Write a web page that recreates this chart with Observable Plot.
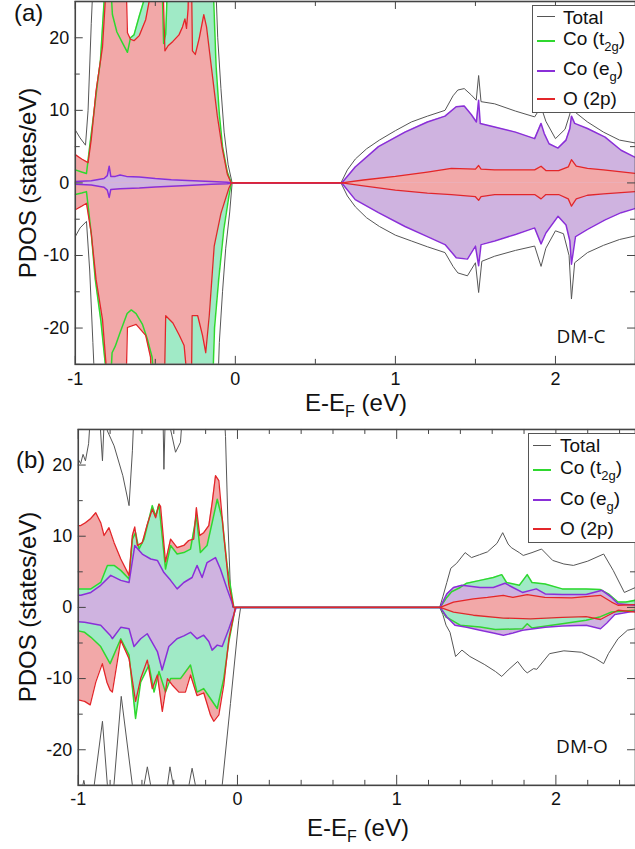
<!DOCTYPE html>
<html><head><meta charset="utf-8">
<script src="https://cdn.jsdelivr.net/npm/d3@7"></script>
<script src="https://cdn.jsdelivr.net/npm/@observablehq/plot@0.6"></script>
<style>
html,body{margin:0;padding:0;background:#fff;overflow:hidden;width:635px;height:849px;}
#wrap{position:relative;width:635px;height:849px;overflow:hidden;font-family:"Liberation Sans",Arial,sans-serif;color:#111;}
.panel{position:absolute;left:0;}
.lbl{position:absolute;white-space:nowrap;line-height:1;}
.legend{position:absolute;background:#fff;border:1.5px solid #555;box-sizing:border-box;}
.sample{position:absolute;height:0;width:18px;}
.ltxt{position:absolute;font-size:19px;line-height:19px;white-space:nowrap;}
.ltxt sub{font-size:13px;vertical-align:-6px;line-height:0;}
.tag{position:absolute;font-family:"Open Sans",sans-serif;font-size:19px;line-height:19px;transform:translate(-50%,-50%);}
.ytitle{position:absolute;font-size:24px;line-height:24px;white-space:nowrap;transform:translate(-50%,-50%) rotate(-90deg);}
.xtitle{position:absolute;font-size:24px;line-height:22px;white-space:nowrap;transform:translate(-50%,-50%);}
.xtitle sub{font-size:16px;vertical-align:-6px;line-height:0;}
</style></head>
<body><div id="wrap"></div>
<script>
// ---------- Panel (a) DM-C : [E-EF (eV), PDOS] ----------
const aTotalUp = [[-1,7.3],[-0.97,6.2],[-0.936,5.2],[-0.92,10],[-0.9,22],[-0.88,32],[-0.13,32],[-0.11,20],[-0.09,13],[-0.07,7],[-0.045,2.5],[-0.02,0],[0.66,0],[0.7,1.8],[0.75,3.3],[0.82,4.7],[0.9,5.9],[1.0,7.2],[1.1,8.4],[1.2,9.2],[1.31,10],[1.36,12],[1.39,12.8],[1.43,13.0],[1.475,12.1],[1.505,11.4],[1.52,14.8],[1.535,11.2],[1.62,10.9],[1.75,9.9],[1.87,9.1],[1.91,10.5],[1.94,8.5],[2.0,6.1],[2.06,7.4],[2.09,9.5],[2.1,12],[2.12,9.8],[2.2,8.4],[2.3,7.0],[2.4,5.9],[2.5,5.5]];
const aTotalDown = [[-1,-7.4],[-0.97,-6.2],[-0.93,-5.3],[-0.91,-12],[-0.89,-22],[-0.87,-32],[-0.115,-32],[-0.1,-22],[-0.08,-15],[-0.06,-9],[-0.035,-4],[-0.02,0],[0.66,0],[0.7,-1.8],[0.75,-3.3],[0.82,-4.8],[0.9,-6.0],[1.0,-7.2],[1.1,-8.0],[1.2,-8.8],[1.31,-9.6],[1.36,-11.5],[1.39,-12.4],[1.45,-12.8],[1.5,-11.0],[1.52,-15.1],[1.54,-10.8],[1.62,-10.1],[1.75,-9.3],[1.87,-8.7],[1.91,-11.5],[1.94,-9],[2.0,-6.6],[2.05,-7.0],[2.085,-10],[2.1,-16.0],[2.12,-11],[2.2,-9.6],[2.3,-8.6],[2.4,-7.8],[2.5,-7.3]];
const aGreenUp = [[-1,1.8],[-0.96,1.5],[-0.93,1.3],[-0.91,5],[-0.88,10.3],[-0.86,14],[-0.843,16.8],[-0.82,25],[-0.81,30],[-0.785,30],[-0.768,23.2],[-0.74,20.8],[-0.71,19.5],[-0.674,18.0],[-0.655,20],[-0.633,20.4],[-0.6,23],[-0.573,25],[-0.56,30],[-0.46,30],[-0.448,19.2],[-0.435,20.5],[-0.42,30],[-0.145,30],[-0.135,25],[-0.12,16],[-0.1,9.5],[-0.08,5],[-0.05,1.5],[-0.025,0],[2.5,0]];
const aGreenDown = [[-1,-1.6],[-0.96,-1.4],[-0.93,-1.2],[-0.9,-7],[-0.875,-13.3],[-0.84,-19],[-0.81,-25.5],[-0.8,-30],[-0.785,-30],[-0.77,-23.4],[-0.75,-22.5],[-0.72,-20.6],[-0.676,-18],[-0.65,-17.5],[-0.62,-18],[-0.58,-19.5],[-0.55,-21.5],[-0.52,-24],[-0.5,-30],[-0.145,-30],[-0.13,-20],[-0.104,-13.3],[-0.072,-6.4],[-0.04,-1.8],[-0.025,0],[2.5,0]];
const aEgUp = [[-1,0.2],[-0.9,0.3],[-0.82,0.6],[-0.8,1.0],[-0.788,2.3],[-0.778,0.9],[-0.75,0.9],[-0.72,1.1],[-0.68,0.9],[-0.6,0.8],[-0.5,0.6],[-0.4,0.45],[-0.3,0.35],[-0.15,0.2],[-0.05,0.1],[-0.02,0],[0.665,0],[0.749,2.2],[0.894,5.0],[1.06,7.0],[1.2,8.4],[1.31,9.2],[1.38,10.5],[1.43,10.6],[1.475,9.4],[1.506,8.4],[1.52,11.4],[1.53,8.2],[1.62,7.7],[1.75,7.0],[1.87,6.1],[1.91,8.2],[1.93,6.8],[1.96,5.4],[2.016,4.8],[2.066,5.9],[2.09,7.5],[2.1,9.2],[2.12,8.2],[2.2,7.5],[2.31,6.3],[2.41,4.5],[2.5,3.5]];
const aEgDown = [[-1,-0.2],[-0.9,-0.3],[-0.82,-0.6],[-0.8,-1.0],[-0.788,-2.0],[-0.778,-0.9],[-0.72,-0.8],[-0.6,-0.7],[-0.5,-0.55],[-0.4,-0.45],[-0.3,-0.35],[-0.15,-0.2],[-0.05,-0.1],[-0.02,0],[0.665,0],[0.749,-2.3],[0.894,-4.1],[1.06,-6.0],[1.2,-7.4],[1.31,-8.5],[1.38,-10.3],[1.45,-10.5],[1.5,-8.7],[1.52,-11.4],[1.535,-8.5],[1.62,-8.0],[1.75,-7.1],[1.87,-6.2],[1.91,-8.4],[1.94,-6.9],[2.016,-4.6],[2.066,-5.8],[2.09,-8],[2.1,-11.2],[2.125,-7.4],[2.2,-6.4],[2.31,-5.1],[2.41,-4.1],[2.5,-3.5]];
const aO2pUp = [[-1,3.9],[-0.96,3.3],[-0.92,2.8],[-0.9,6],[-0.87,12.7],[-0.83,18.7],[-0.81,26],[-0.8,30],[-0.685,30],[-0.674,20.7],[-0.655,19.8],[-0.633,19.6],[-0.6,20.3],[-0.56,22.5],[-0.53,26],[-0.52,30],[-0.455,30],[-0.44,18.2],[-0.42,18.9],[-0.39,19.5],[-0.352,20.4],[-0.33,21.5],[-0.315,22.6],[-0.305,21.3],[-0.295,24],[-0.29,30],[-0.275,30],[-0.268,18.2],[-0.25,17.7],[-0.225,20],[-0.197,23.2],[-0.18,21.5],[-0.146,15.3],[-0.113,9.3],[-0.082,4.8],[-0.05,1.2],[-0.026,0],[0.665,0],[0.8,0.4],[1.0,0.9],[1.2,1.5],[1.35,2.0],[1.5,1.9],[1.52,2.4],[1.535,1.9],[1.62,1.8],[1.75,1.8],[1.87,1.8],[1.91,2.3],[1.94,1.7],[2.02,1.7],[2.08,2.2],[2.1,3.2],[2.13,2.3],[2.2,2.0],[2.3,1.8],[2.5,1.3]];
const aO2pDown = [[-1,-3.7],[-0.96,-3.2],[-0.93,-2.8],[-0.9,-7],[-0.87,-13.3],[-0.83,-18.8],[-0.806,-25.5],[-0.8,-30],[-0.685,-30],[-0.674,-19.9],[-0.62,-19.5],[-0.56,-21],[-0.53,-24],[-0.52,-30],[-0.445,-30],[-0.435,-18.3],[-0.39,-19.3],[-0.35,-21],[-0.32,-22.4],[-0.305,-26],[-0.29,-30],[-0.275,-30],[-0.27,-18.3],[-0.235,-18.3],[-0.205,-21],[-0.185,-23.4],[-0.163,-18.3],[-0.132,-8.7],[-0.09,-4.2],[-0.04,-0.7],[-0.025,0],[0.665,0],[0.8,-0.4],[1.0,-1.0],[1.2,-1.4],[1.35,-1.6],[1.5,-1.9],[1.52,-2.4],[1.535,-1.9],[1.62,-1.6],[1.75,-1.6],[1.87,-1.6],[1.91,-2.2],[1.94,-1.6],[2.02,-1.6],[2.08,-2.2],[2.1,-3.2],[2.13,-2.2],[2.2,-1.7],[2.3,-1.5],[2.5,-1.2]];

// ---------- Panel (b) DM-O ----------
const bTotalUp = [[-1,20.8],[-0.985,20.2],[-0.97,21.5],[-0.955,20.6],[-0.935,23],[-0.915,30],[-0.875,30],[-0.848,20.6],[-0.83,30],[-0.82,26],[-0.817,24.8],[-0.775,22.7],[-0.72,18.5],[-0.681,14.3],[-0.66,22],[-0.645,30],[-0.47,30],[-0.462,19.4],[-0.45,30],[-0.42,25],[-0.389,21.8],[-0.358,23.2],[-0.337,30],[-0.09,30],[-0.075,24],[-0.06,12],[-0.045,3],[-0.03,0],[1.27,0],[1.29,1.5],[1.315,3.5],[1.34,5.5],[1.377,6.2],[1.43,7.7],[1.47,7.0],[1.52,7.4],[1.57,7.8],[1.63,9.0],[1.666,10.5],[1.7,8.9],[1.72,8.4],[1.77,7.7],[1.795,7.3],[1.85,7.7],[1.91,8.2],[1.98,6.6],[2.05,6.1],[2.11,5.9],[2.2,6.5],[2.3,7.5],[2.36,5.2],[2.43,2.1],[2.5,2.8]];
const bTotalDown = [[-1,-30],[-0.98,-26],[-0.965,-24.3],[-0.95,-26],[-0.93,-30],[-0.905,-27],[-0.9,-25],[-0.848,-16],[-0.817,-25],[-0.81,-27],[-0.78,-27],[-0.776,-25],[-0.73,-12.5],[-0.66,-25],[-0.65,-28],[-0.595,-28],[-0.587,-25],[-0.566,-22.4],[-0.545,-25],[-0.535,-28],[-0.45,-28],[-0.44,-25],[-0.424,-22.4],[-0.403,-25],[-0.39,-28],[-0.315,-28],[-0.305,-25],[-0.285,-22.6],[-0.264,-25],[-0.25,-28],[-0.11,-28],[-0.096,-25],[-0.044,-13.5],[0.008,-1.8],[0.02,0],[1.27,0],[1.29,-1],[1.31,-2.5],[1.335,-3.5],[1.37,-6.9],[1.41,-6.0],[1.46,-6.9],[1.55,-8],[1.62,-9],[1.66,-9.7],[1.7,-8.8],[1.76,-7.6],[1.8,-8.8],[1.82,-9.2],[1.86,-8.6],[1.88,-8.7],[1.96,-6.5],[2.05,-6.1],[2.16,-6.3],[2.25,-7.2],[2.3,-7.9],[2.33,-6.5],[2.39,-4.4],[2.45,-3.2],[2.5,-3.0]];
const bGreenUp = [[-1,2.6],[-0.984,2.6],[-0.921,2.6],[-0.859,3.5],[-0.817,5.9],[-0.775,5.9],[-0.733,5.2],[-0.681,4.0],[-0.66,9.6],[-0.64,10.5],[-0.619,8.2],[-0.587,9.6],[-0.535,14.3],[-0.514,12.8],[-0.493,14.5],[-0.452,5.4],[-0.42,8.7],[-0.379,7.5],[-0.337,7.7],[-0.295,8.2],[-0.258,12.9],[-0.233,7.7],[-0.191,8.7],[-0.159,11.9],[-0.127,15.2],[-0.096,12.4],[-0.065,5.9],[-0.023,0],[1.273,0],[1.315,1.4],[1.345,2.2],[1.399,2.8],[1.44,3.4],[1.524,3.8],[1.607,4.2],[1.66,4.6],[1.69,3.5],[1.77,3.1],[1.82,4.6],[1.85,3.5],[1.933,3.3],[2.04,2.6],[2.19,2.6],[2.28,2.5],[2.33,1.9],[2.39,0.75],[2.44,0.75],[2.5,1.0]];
const bGreenDown = [[-1,-3.3],[-0.96,-3.5],[-0.92,-4.2],[-0.859,-5.5],[-0.8,-7.9],[-0.733,-4.4],[-0.681,-6.7],[-0.64,-15.6],[-0.608,-10.5],[-0.556,-8.1],[-0.524,-11.9],[-0.493,-9.0],[-0.452,-11.9],[-0.42,-10.0],[-0.358,-10.0],[-0.295,-8.1],[-0.254,-11.9],[-0.212,-11.4],[-0.17,-12.8],[-0.127,-14.2],[-0.086,-10.0],[-0.054,-4.8],[-0.013,0],[1.273,0],[1.31,-1.35],[1.345,-1.8],[1.399,-2.5],[1.524,-2.75],[1.62,-3.1],[1.79,-3.0],[1.82,-2.3],[1.85,-2.9],[2.04,-2.3],[2.19,-1.8],[2.28,-1.3],[2.35,-0.65],[2.5,-0.4]];
const bEgUp = [[-1,1.7],[-0.984,1.7],[-0.921,2.1],[-0.859,3.1],[-0.796,4.5],[-0.733,3.8],[-0.681,3.5],[-0.645,8.7],[-0.598,7.5],[-0.545,6.8],[-0.503,6.6],[-0.462,4.9],[-0.42,3.8],[-0.379,2.6],[-0.337,3.5],[-0.285,4.2],[-0.254,5.9],[-0.222,4.2],[-0.191,6.3],[-0.138,7.0],[-0.107,5.4],[-0.065,2.6],[-0.023,0],[1.273,0],[1.315,1.9],[1.357,2.8],[1.41,3.1],[1.524,2.8],[1.607,2.8],[1.68,3.4],[1.73,2.8],[1.79,2.1],[1.877,2.6],[1.933,1.9],[2.04,1.8],[2.19,1.8],[2.29,2.4],[2.35,1.4],[2.39,0.5],[2.5,0.3]];
const bEgDown = [[-1,-2.0],[-0.96,-2.1],[-0.859,-2.5],[-0.8,-3.9],[-0.786,-4.4],[-0.733,-2.8],[-0.681,-3.0],[-0.65,-5.5],[-0.608,-4.4],[-0.567,-3.7],[-0.503,-6.2],[-0.473,-8.8],[-0.431,-5.5],[-0.38,-4.4],[-0.337,-4.0],[-0.295,-3.5],[-0.254,-4.4],[-0.212,-3.9],[-0.18,-4.8],[-0.159,-6.0],[-0.127,-5.3],[-0.096,-5.5],[-0.054,-3.0],[-0.023,-1.0],[-0.008,0],[1.273,0],[1.315,-1.35],[1.366,-2.5],[1.44,-2.8],[1.524,-3.2],[1.607,-3.6],[1.67,-3.9],[1.73,-3.6],[1.79,-3.2],[1.933,-2.8],[2.04,-2.6],[2.19,-2.5],[2.28,-3.0],[2.32,-2.2],[2.37,-1.0],[2.5,-0.5]];
const bO2pUp = [[-1,11.5],[-0.984,11.5],[-0.955,11.9],[-0.921,12.5],[-0.89,13.3],[-0.859,11.9],[-0.838,10.1],[-0.807,11.2],[-0.775,9.1],[-0.733,6.8],[-0.681,4.5],[-0.66,10.1],[-0.645,11.3],[-0.629,8.7],[-0.598,9.1],[-0.566,11.7],[-0.535,13.8],[-0.514,12.6],[-0.493,14.5],[-0.483,14.2],[-0.452,6.4],[-0.42,9.6],[-0.379,8.4],[-0.337,8.7],[-0.306,9.4],[-0.275,9.6],[-0.258,14.0],[-0.237,10.1],[-0.212,10.5],[-0.18,11.5],[-0.159,14.7],[-0.138,18.5],[-0.117,17.8],[-0.086,10.1],[-0.054,3.1],[-0.023,0],[1.273,0],[1.357,0.75],[1.482,1.2],[1.57,1.4],[1.67,1.7],[1.73,1.4],[1.82,1.8],[1.93,1.4],[2.1,1.35],[2.28,1.7],[2.35,0.75],[2.39,0.3],[2.5,0.4]];
const bO2pDown = [[-1,-13],[-0.96,-13.2],[-0.925,-13.7],[-0.89,-10.5],[-0.849,-7.9],[-0.82,-10.5],[-0.8,-11.6],[-0.786,-11.9],[-0.733,-4.6],[-0.681,-7.2],[-0.64,-13.2],[-0.608,-10.0],[-0.566,-7.4],[-0.535,-11.4],[-0.503,-9.5],[-0.472,-14.6],[-0.44,-10.0],[-0.41,-10.9],[-0.368,-11.9],[-0.327,-11.9],[-0.295,-9.5],[-0.254,-12.4],[-0.212,-12.0],[-0.17,-15.1],[-0.149,-16.0],[-0.117,-15.1],[-0.086,-10.9],[-0.054,-4.4],[-0.013,0],[1.273,0],[1.357,-0.65],[1.482,-1.1],[1.67,-1.5],[1.84,-1.6],[2.04,-1.4],[2.19,-1.3],[2.28,-1.7],[2.33,-1.1],[2.39,-0.4],[2.5,-0.65]];

// ---------- ticks ----------
const xMajorA = [-1, 0, 1, 2];
const xMinorA = [-0.5, 0.5, 1.5, 2.5];
const xMajorB = [-1, 0, 1, 2];
const xMinorB = [-0.8,-0.6,-0.4,-0.2,0.2,0.4,0.6,0.8,1.2,1.4,1.6,1.8,2.2,2.4];
const yMajor = [-20, -10, 0, 10, 20];
const yMinor = [-25, -15, -5, 5, 15, 25];

// ---------- colours ----------
const C = {
  total: "#555555",
  t2g: "#2fd82f", t2gFill: "#a0eac6",
  eg: "#8a2fd8", egFill: "#cfb3e0",
  o2p: "#e3262a", o2pFill: "#f2a8a8",
  axis: "#444444"
};

const X = d => d[0], Y = d => d[1];
const VB = d => d[0] < 0.3, CB = d => d[0] >= 0.3;
const fill = (data, color) => Plot.areaY(data, {x: X, y: Y, fill: color, clip: true});
const line = (data, color, w) => Plot.line(data, {x: X, y: Y, stroke: color, strokeWidth: w, clip: true});

const W = 637;
function panel(o) {
  const innerH = o.height - o.mt - o.mb, innerW = W - o.ml;
  const tx = (vals, len, where) => Plot.tickX(vals, {x: d => d, stroke: C.axis, strokeWidth: 1,
    insetTop: where === "bottom" ? innerH - len : 0, insetBottom: where === "top" ? innerH - len : 0});
  const ty = (vals, len, where) => Plot.tickY(vals, {y: d => d, stroke: C.axis, strokeWidth: 1,
    insetRight: where === "left" ? innerW - len : 0, insetLeft: where === "right" ? innerW - len : 0});
  return Plot.plot({
    width: W, height: o.height,
    marginTop: o.mt, marginBottom: o.mb, marginLeft: o.ml, marginRight: 0,
    style: {fontFamily: '"Liberation Sans", Arial, sans-serif', fontSize: "18px", background: "white", color: "#111", overflow: "visible"},
    x: {domain: [-1, 2.5]},
    y: {domain: [-25, 25]},
    marks: [
      ...o.fills,
      ...o.lines,
      tx(o.xMajor, o.xMajLen, "bottom"), tx(o.xMajor, o.xMajLen, "top"),
      tx(o.xMinor, 5, "bottom"), tx(o.xMinor, 5, "top"),
      ty(yMajor, 8, "left"), ty(yMajor, 8, "right"),
      ty(yMinor, 5, "left"), ty(yMinor, 5, "right"),
      Plot.axisX({ticks: o.xMajor, tickSize: 0, tickPadding: o.xPad, tickFormat: d => String(d), label: null, fontSize: 18}),
      Plot.axisY({ticks: yMajor, tickSize: 0, tickPadding: 6, tickFormat: d => String(d), label: null, fontSize: 18}),
      Plot.frame({stroke: C.axis, strokeWidth: 1.6})
    ]
  });
}

const plotA = panel({
  height: 420, mt: 1, mb: 55, ml: 75, xMajor: xMajorA, xMinor: xMinorA, xMajLen: 8, xPad: 8,
  fills: [
    fill(aGreenUp, C.t2gFill), fill(aGreenDown, C.t2gFill),
    fill(aEgUp.filter(CB), C.egFill), fill(aEgDown.filter(CB), C.egFill),
    fill(aO2pUp, C.o2pFill), fill(aO2pDown, C.o2pFill),
    fill(aEgUp.filter(VB), C.egFill), fill(aEgDown.filter(VB), C.egFill)
  ],
  lines: [
    line(aTotalUp, C.total, 1), line(aTotalDown, C.total, 1),
    line(aGreenUp.filter(VB), C.t2g, 1.5), line(aGreenDown.filter(VB), C.t2g, 1.5),
    line(aEgUp, C.eg, 1.5), line(aEgDown, C.eg, 1.5),
    line(aO2pUp, C.o2p, 1.3), line(aO2pDown, C.o2p, 1.3)
  ]
});

const plotB = panel({
  height: 429, mt: 9, mb: 63, ml: 78, xMajor: xMajorB, xMinor: xMinorB, xMajLen: 10, xPad: 7,
  fills: [
    fill(bO2pUp.filter(VB), C.o2pFill), fill(bO2pDown.filter(VB), C.o2pFill),
    fill(bGreenUp.filter(VB), C.t2gFill), fill(bGreenDown.filter(VB), C.t2gFill),
    fill(bEgUp.filter(VB), C.egFill), fill(bEgDown.filter(VB), C.egFill),
    fill(bGreenUp.filter(CB), C.t2gFill), fill(bEgUp.filter(CB), C.egFill), fill(bO2pUp.filter(CB), C.o2pFill),
    fill(bEgDown.filter(CB), C.egFill), fill(bGreenDown.filter(CB), C.t2gFill), fill(bO2pDown.filter(CB), C.o2pFill)
  ],
  lines: [
    line(bTotalUp, C.total, 1), line(bTotalDown, C.total, 1),
    line(bGreenUp, C.t2g, 1.5), line(bGreenDown, C.t2g, 1.5),
    line(bEgUp, C.eg, 1.5), line(bEgDown, C.eg, 1.5),
    line(bO2pUp, C.o2p, 1.3), line(bO2pDown, C.o2p, 1.3)
  ]
});

const wrap = document.getElementById("wrap");
function place(node, top) { const d = document.createElement("div"); d.className = "panel"; d.style.top = top + "px"; d.appendChild(node); wrap.appendChild(d); }
place(plotA, 0);
place(plotB, 420);

function html(cls, style, inner) {
  const d = document.createElement("div"); d.className = cls; d.setAttribute("style", style); d.innerHTML = inner; wrap.appendChild(d); return d;
}
// panel letters
html("lbl", "left:14px;top:1px;font-size:24px;", "(a)");
html("lbl", "left:16px;top:448px;font-size:24px;", "(b)");
// axis titles
html("ytitle", "left:28px;top:183px;", "PDOS (states/eV)");
html("ytitle", "left:28px;top:607px;", "PDOS (states/eV)");
html("xtitle", "left:356px;top:403px;", "E-E<sub>F</sub> (eV)");
html("xtitle", "left:358px;top:828px;", "E-E<sub>F</sub> (eV)");
// tags
html("tag", "left:581px;top:336px;", "DM-C");
html("tag", "left:582px;top:746px;", "DM-O");

// legends
const legendItems = [
  {label: "Total", color: C.total, w: 1},
  {label: "Co (t<sub>2g</sub>)", color: C.t2g, w: 2},
  {label: "Co (e<sub>g</sub>)", color: C.eg, w: 2},
  {label: "O (2p)", color: C.o2p, w: 2}
];
function legend(box, lineX, textX, lineYs, textYs) {
  html("legend", `left:${box[0]}px;top:${box[1]}px;width:${box[2]}px;height:${box[3]}px;`, "");
  legendItems.forEach((it, i) => {
    html("sample", `left:${lineX}px;top:${lineYs[i] - it.w / 2}px;border-top:${it.w}px solid ${it.color};`, "");
    html("ltxt", `left:${textX}px;top:${textYs[i] - 9.5}px;`, it.label);
  });
}
legend([532, 5, 120, 108], 537, 563, [16, 41, 71, 99], [17, 38, 68, 98]);
legend([528, 433, 120, 110], 533, 560, [445, 470, 500, 529], [445, 467, 498, 528]);
</script>
</body></html>
